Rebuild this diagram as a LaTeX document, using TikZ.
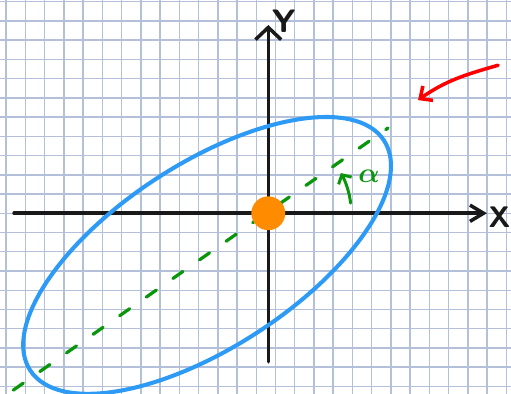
\documentclass[tikz,border=0pt]{standalone}
\usepackage{amsmath,amssymb}
\usetikzlibrary{arrows.meta}
\definecolor{gridblue}{RGB}{180,192,218}
\definecolor{ellblue}{RGB}{45,155,245}
\definecolor{dashgreen}{RGB}{10,150,10}
\definecolor{dotorange}{RGB}{255,140,0}
\definecolor{inkblack}{RGB}{25,25,25}

\begin{document}
\begin{tikzpicture}[x=0.5cm, y=0.5cm, line cap=round, line join=round,
    gridline/.style={gridblue, line width=1.1pt},
    axis/.style={inkblack, line width=2.6pt},
    hand/.style={inkblack, inner sep=0pt, font=\sffamily\bfseries\fontsize{22}{22}\selectfont}]
      \useasboundingbox (-13.94,-9.39) rectangle (12.61,11.08);
      % squared paper
      \foreach \x in {-14,...,12} \draw[gridline] (\x+0.374,-9.39) -- (\x+0.374,11.08);
      \foreach \y in {-9,...,11} \draw[gridline] (-13.94,\y) -- (12.61,\y);
      % axes
      \coordinate (o) at (0,0);
      \coordinate (xlo) at (-13.21,0);
      \coordinate (xhi) at (11.36,0);
      \coordinate (ylo) at (0,-7.72);
      \coordinate (yhi) at (0,9.78);
      \draw[axis, -{Straight Barb[length=10pt,width=12pt]}] (xlo) -- (xhi);
      \draw[axis, -{Straight Barb[length=9pt,width=19pt]}] (ylo) -- (yhi);
      \node[hand] (xlab) at (12.02,-0.19) {X};
      \node[hand, font=\sffamily\bfseries\fontsize{24}{24}\selectfont] (ylab) at (0.81,9.99) {Y};
      % tilted ellipse, its axis through the origin
      \coordinate (c) at (-3.18,-2.19);
      \draw[ellblue, line width=3pt, rotate around={33:(c)}] (c) ellipse (10.96 and 4.78);
      \coordinate (dlo) at (-13.25,-9.19);
      \coordinate (dhi) at (6.22,4.43);
      \draw[dashgreen, line width=2.4pt, dash pattern=on 9pt off 15pt] (dlo) -- (dhi);
      % angle alpha against the x axis
      \draw[dashgreen, line width=2.2pt, -{Straight Barb[length=5pt,width=11pt]}] (7:4.31) arc (7:29:4.31);
      \node[dashgreen, font=\fontsize{22}{22}\selectfont] (alpha) at (5.24,1.94) {$\boldsymbol{\alpha}$};
      \fill[dotorange] (o) circle (0.88);
      % red pointer, top right
      \coordinate (rstart) at (11.94,7.69);
      \coordinate (rend) at (7.78,5.88);
      \draw[red, line width=2.6pt, -{Straight Barb[length=7pt,width=13pt]}] (rstart) to[out=196, in=35] (rend);
    \end{tikzpicture}
\end{document}
